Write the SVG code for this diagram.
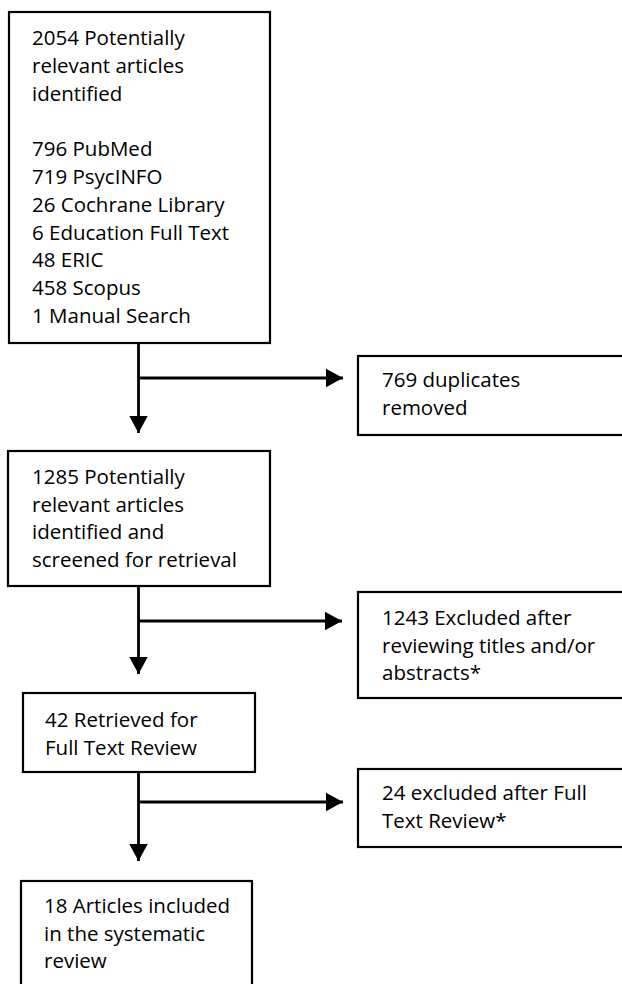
<svg xmlns="http://www.w3.org/2000/svg" width="622" height="984" viewBox="0 0 622 984">
  <defs>
    <marker id="arrow" markerUnits="userSpaceOnUse" markerWidth="19" markerHeight="20" refX="17.5" refY="9.5" orient="auto">
      <path d="M0,0 L17.5,9.5 L0,19 Z" fill="#000"/>
    </marker>
  </defs>
  <style>
    .box { fill: #fff; stroke: #000; stroke-width: 2.2; }
    .lbl { font-family: "Open Sans", "Liberation Sans", sans-serif; font-size: 20.5px; fill: #000; }
    .conn { fill: none; stroke: #000; stroke-width: 2.8; }
  </style>
  <rect width="622" height="984" fill="#fff"/>

  <g id="connectors">
    <path class="conn" d="M138.5,340 V433" marker-end="url(#arrow)"/>
    <path class="conn" d="M138.5,378 H343" marker-end="url(#arrow)"/>
    <path class="conn" d="M138.5,582 V674" marker-end="url(#arrow)"/>
    <path class="conn" d="M138.5,621 H342" marker-end="url(#arrow)"/>
    <path class="conn" d="M138.5,768 V861" marker-end="url(#arrow)"/>
    <path class="conn" d="M138.5,802 H343" marker-end="url(#arrow)"/>
  </g>

  <g id="identified">
    <rect class="box" x="9" y="12" width="261" height="331"/>
    <text class="lbl" x="32" y="45">2054 Potentially</text>
    <text class="lbl" x="32" y="72.8">relevant articles</text>
    <text class="lbl" x="32" y="100.6">identified</text>
    <text class="lbl" x="32" y="156.2">796 PubMed</text>
    <text class="lbl" x="32" y="184">719 PsycINFO</text>
    <text class="lbl" x="32" y="211.8">26 Cochrane Library</text>
    <text class="lbl" x="32" y="239.6">6 Education Full Text</text>
    <text class="lbl" x="32" y="267.4">48 ERIC</text>
    <text class="lbl" x="32" y="295.2">458 Scopus</text>
    <text class="lbl" x="32" y="323">1 Manual Search</text>
  </g>

  <g id="duplicates">
    <rect class="box" x="358" y="356" width="280" height="79"/>
    <text class="lbl" x="382" y="387">769 duplicates</text>
    <text class="lbl" x="382" y="415">removed</text>
  </g>

  <g id="screened">
    <rect class="box" x="8" y="451" width="262" height="135"/>
    <text class="lbl" x="32" y="484">1285 Potentially</text>
    <text class="lbl" x="32" y="511.5">relevant articles</text>
    <text class="lbl" x="32" y="539">identified and</text>
    <text class="lbl" x="32" y="566.5">screened for retrieval</text>
  </g>

  <g id="excluded-titles">
    <rect class="box" x="358" y="592" width="280" height="106"/>
    <text class="lbl" x="382" y="625">1243 Excluded after</text>
    <text class="lbl" x="382" y="652.5">reviewing titles and/or</text>
    <text class="lbl" x="382" y="680">abstracts*</text>
  </g>

  <g id="retrieved">
    <rect class="box" x="23" y="693" width="232" height="79"/>
    <text class="lbl" x="45" y="727">42 Retrieved for</text>
    <text class="lbl" x="45" y="754.5">Full Text Review</text>
  </g>

  <g id="excluded-fulltext">
    <rect class="box" x="358" y="769" width="280" height="78"/>
    <text class="lbl" x="382" y="800">24 excluded after Full</text>
    <text class="lbl" x="382" y="827.5">Text Review*</text>
  </g>

  <g id="included">
    <rect class="box" x="21" y="881" width="231" height="120"/>
    <text class="lbl" x="44" y="913">18 Articles included</text>
    <text class="lbl" x="44" y="940.5">in the systematic</text>
    <text class="lbl" x="44" y="968">review</text>
  </g>
</svg>
